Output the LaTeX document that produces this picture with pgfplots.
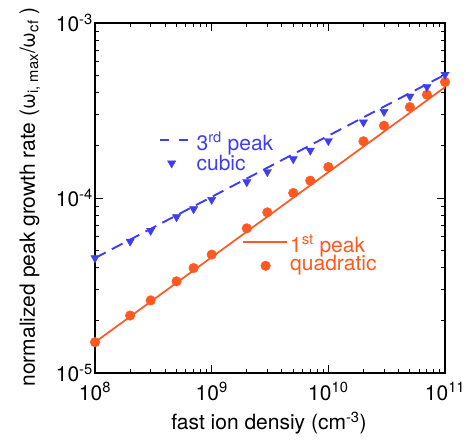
\documentclass[border=0pt]{standalone}
\usepackage{pgfplots}
\pgfplotsset{compat=1.18}
\usepackage{fontspec}
\setmainfont{TeX Gyre Heros}
\setsansfont{TeX Gyre Heros}
\definecolor{blueC}{RGB}{62,62,240}
\definecolor{orangeC}{RGB}{255,88,32}
\newcommand{\lf}{\fontsize{21}{25}\selectfont}
\begin{document}
\begin{tikzpicture}
\useasboundingbox (-95pt,-67pt) rectangle (376pt,373pt);
\begin{axis}[
  at={(0,0)}, anchor=south west,
  scale only axis, width=350pt, height=350pt,
  xmode=log, ymode=log,
  xmin=1e8, xmax=1e11, ymin=1e-5, ymax=1e-3,
  xtick={1e8,1e9,1e10,1e11},
  xticklabels={10\textsuperscript{8},10\textsuperscript{9},10\textsuperscript{10},10\textsuperscript{11}},
  ytick={1e-5,1e-4,1e-3},
  yticklabels={10\textsuperscript{-5},10\textsuperscript{-4},10\textsuperscript{-3}},
  tick align=inside,
  major tick length=8pt, minor tick length=4pt,
  every tick/.style={black, line width=0.9pt},
  axis line style={line width=1.1pt},
  tick label style={font=\lf},
  xticklabel style={inner sep=3pt, yshift=-6pt},
  yticklabel style={inner sep=2pt},
  label style={font=\lf},
  xlabel={fast ion densiy (cm\textsuperscript{-3})},
  ylabel={normalized peak growth rate (ω\textsubscript{i, max}/ω\textsubscript{cf} )},
  xlabel style={at={(axis description cs:0.497,-0.143)}, anchor=center},
  ylabel style={at={(axis description cs:-0.186,0.503)}, anchor=center},
  clip=false,
]
% 1st peak fit line
\addplot[orangeC, line width=1.7pt] coordinates {(1e8,1.5e-5) (1e11,4.3e-4)};
% quadratic points
\addplot[only marks, mark=*, mark size=4.8pt, orangeC, mark options={fill=orangeC, draw=orangeC}] coordinates {
(1e8,1.50e-5) (2e8,2.13e-5) (3e8,2.60e-5) (5e8,3.34e-5) (7e8,3.98e-5)
(1e9,4.75e-5) (2e9,6.71e-5) (3e9,8.28e-5) (5e9,1.069e-4) (7e9,1.256e-4)
(1e10,1.503e-4) (2e10,2.11e-4) (3e10,2.59e-4) (5e10,3.31e-4) (7e10,3.89e-4)
(1e11,4.60e-4)};
% 3rd peak fit line
\addplot[blueC, line width=1.9pt, dash pattern=on 12pt off 7pt] coordinates {(1e8,4.54e-5) (1e11,5.07e-4)};
% cubic points
\addplot[only marks, mark=triangle*, mark size=4.8pt, blueC, mark options={rotate=180, fill=blueC, draw=blueC}] coordinates {
(1e8,4.54e-5) (2e8,5.65e-5) (3e8,6.51e-5) (5e8,7.79e-5) (7e8,8.65e-5)
(1e9,9.78e-5) (2e9,1.234e-4) (3e9,1.41e-4) (5e9,1.67e-4) (7e9,1.87e-4)
(1e10,2.12e-4) (2e10,2.71e-4) (3e10,3.11e-4) (5e10,3.81e-4) (7e10,4.31e-4)
(1e11,5.07e-4)};
% legend samples
\addplot[blueC, line width=1.9pt, dash pattern=on 9pt off 10pt] coordinates {(3.61e8,2.14e-4) (6.27e8,2.14e-4)};
\addplot[only marks, mark=triangle*, mark size=4.8pt, blueC, mark options={rotate=180, fill=blueC, draw=blueC}] coordinates {(4.54e8,1.58e-4)};
\addplot[orangeC, line width=1.7pt] coordinates {(1.855e9,5.63e-5) (4.42e9,5.63e-5)};
\addplot[only marks, mark=*, mark size=4.8pt, orangeC, mark options={fill=orangeC, draw=orangeC}] coordinates {(2.9e9,4.1e-5)};
\node[anchor=base west, inner sep=0pt, text=blueC, font=\lf] at (axis cs:7.4e8,1.88e-4) {3\textsuperscript{rd} peak};
\node[anchor=base west, inner sep=0pt, text=blueC, font=\lf] at (axis cs:7.4e8,1.445e-4) {cubic};
\node[anchor=base west, inner sep=0pt, text=orangeC, font=\lf] at (axis cs:4.69e9,4.91e-5) {1\textsuperscript{st} peak};
\node[anchor=base west, inner sep=0pt, text=orangeC, font=\lf] at (axis cs:4.69e9,3.83e-5) {quadratic};
\end{axis}
\end{tikzpicture}
\end{document}
